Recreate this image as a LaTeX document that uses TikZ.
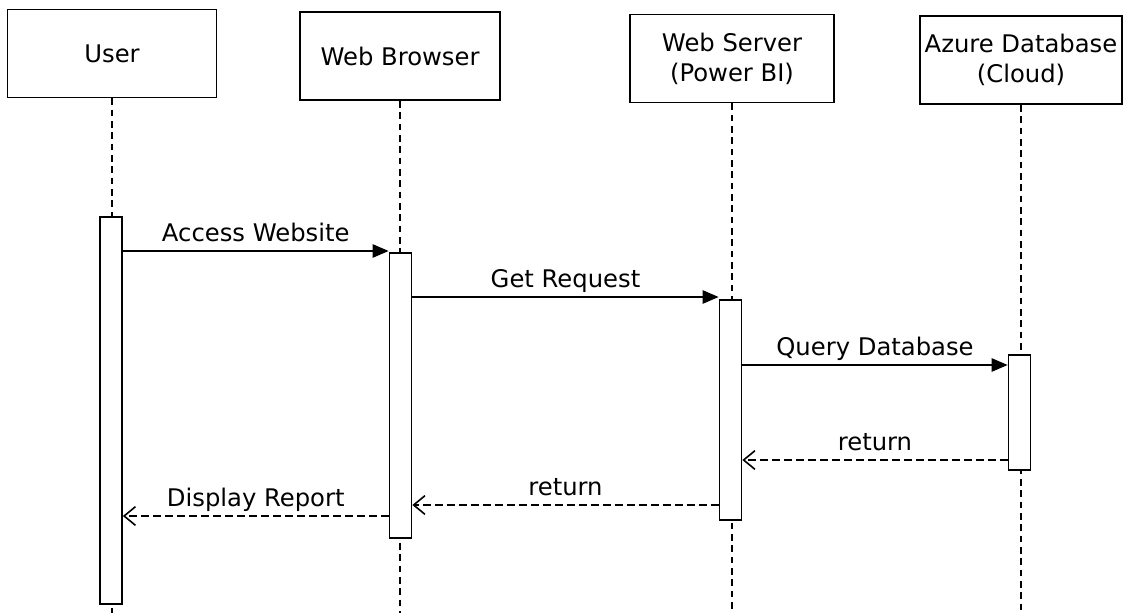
\documentclass[tikz,border=0pt]{standalone}
\usepackage{fontspec}
\setmainfont{DejaVu Sans}
\usetikzlibrary{arrows.meta}
\begin{document}
\begin{tikzpicture}[x=0.75pt,y=-0.75pt,
  txt/.style={font=\fontsize{18.2}{22.5}\selectfont},
  head/.style={draw, line width=1.3pt, txt, align=center, inner sep=0pt, minimum height=66pt},
  act/.style={draw, line width=1.3pt, fill=white, minimum width=16.5pt, inner sep=0pt},
  life/.style={line width=0.9pt, dash pattern=on 5pt off 3.5pt},
  msg/.style={line width=1.2pt, -{Triangle[length=12pt,width=10pt]}},
  ret/.style={line width=1.2pt, dash pattern=on 6pt off 3pt, -{Straight Barb[length=8.5pt,width=14pt]}},
  lbl/.style={txt, midway, anchor=base, inner sep=0pt, yshift=7.5pt}
]
\useasboundingbox (0,0) rectangle (1131,613);
% header boxes
\node[head, minimum width=156.75pt] (user) at (112,53.5) {User};
\node[head, minimum width=150pt] (browser) at (400,56) {Web Browser};
\node[head, minimum width=153pt] (server) at (732,58.5) {Web Server\\(Power BI)};
\node[head, minimum width=151.5pt] (azure) at (1021,60) {Azure Database\\(Cloud)};
% bottom ends of lifelines
\coordinate (uEnd) at (112,613);
\coordinate (bEnd) at (400,613);
\coordinate (sEnd) at (732,613);
\coordinate (aEnd) at (1021,613);
% lifelines
\draw[life] (user.south) -- (uEnd);
\draw[life] (browser.south) -- (bEnd);
\draw[life] (server.south) -- (sEnd);
\draw[life] (azure.south) -- (aEnd);
% activation bars
\node[act, minimum height=290.25pt] (ua) at (111,410.5) {};
\node[act, minimum height=213.75pt] (ba) at (400.5,395.5) {};
\node[act, minimum height=165pt] (sa) at (730.5,410) {};
\node[act, minimum height=86.25pt] (aa) at (1019.5,412.5) {};
% messages
\draw[msg] (ua.east |- 0,251) -- node[lbl] {Access Website} (ba.west |- 0,251);
\draw[msg] (ba.east |- 0,297) -- node[lbl] {Get Request} (sa.west |- 0,297);
\draw[msg] (sa.east |- 0,365) -- node[lbl] {Query Database} (aa.west |- 0,365);
\draw[ret] (aa.west |- 0,460) -- node[lbl] {return} (sa.east |- 0,460);
\draw[ret] (sa.west |- 0,505) -- node[lbl] {return} (ba.east |- 0,505);
\draw[ret] (ba.west |- 0,516) -- node[lbl] {Display Report} (ua.east |- 0,516);
\end{tikzpicture}
\end{document}
